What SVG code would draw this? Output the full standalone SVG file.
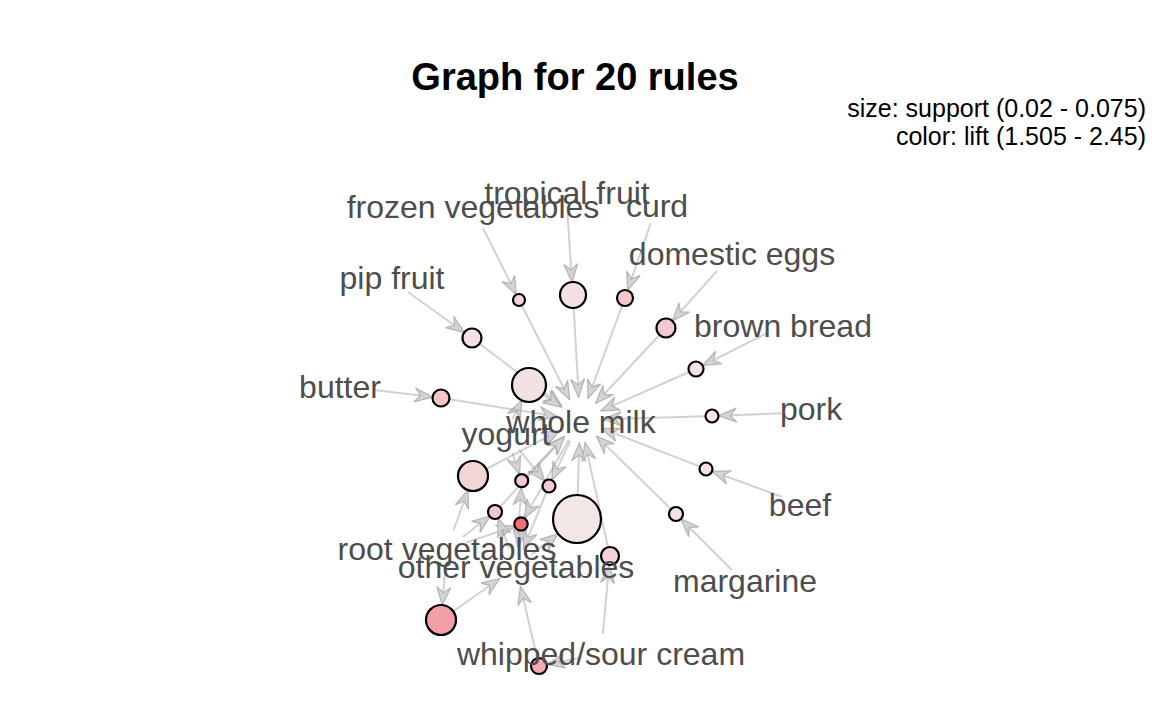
<svg xmlns="http://www.w3.org/2000/svg" width="1152" height="711" viewBox="0 0 1152 711">
<defs>
<marker id="arr" viewBox="-20 -8 21 16" refX="0" refY="0" markerWidth="21" markerHeight="16" markerUnits="userSpaceOnUse" orient="auto">
<path d="M0,0 L-18,-7 L-12,0 L-18,7 Z" fill="#d4d4d4" stroke="#b4b4b4" stroke-width="1.2"/>
</marker>
</defs>
<style>
.e{stroke:#9a9a9a;stroke-opacity:0.45;stroke-width:2;fill:none;marker-end:url(#arr)}
.r{stroke:#000;stroke-width:2.2}
.lbl{font-family:"Liberation Sans",Arial,sans-serif;font-size:32px;fill:#4d4d4d;text-anchor:middle}
.title{font-family:"Liberation Sans",Arial,sans-serif;font-size:38px;font-weight:bold;fill:#000;text-anchor:middle}
.leg{font-family:"Liberation Sans",Arial,sans-serif;font-size:25px;fill:#000;text-anchor:end}
</style>
<rect width="1152" height="711" fill="#fff"/>
<text class="title" x="575" y="90">Graph for 20 rules</text>
<text class="leg" x="1146" y="117">size: support (0.02 - 0.075)</text>
<text class="leg" x="1146" y="145">color: lift (1.505 - 2.45)</text>
<g id="edges">
<line class="e" x1="483" y1="228" x2="516.3" y2="294.6"/>
<line class="e" x1="567.5" y1="213" x2="572" y2="282"/>
<line class="e" x1="650.7" y1="223.3" x2="627.6" y2="290.4"/>
<line class="e" x1="717" y1="271" x2="672.3" y2="320.9"/>
<line class="e" x1="408" y1="292" x2="464.3" y2="332.5"/>
<line class="e" x1="374" y1="390" x2="432.6" y2="397"/>
<line class="e" x1="766.7" y1="333.3" x2="702.7" y2="365.6"/>
<line class="e" x1="781.7" y1="413.3" x2="718.5" y2="415.8"/>
<line class="e" x1="781.7" y1="496.7" x2="712.1" y2="471.2"/>
<line class="e" x1="731.7" y1="570" x2="680.9" y2="519"/>
<line class="e" x1="512.5" y1="419" x2="521.8" y2="400.4"/>
<line class="e" x1="512.4" y1="453" x2="519.6" y2="474.5"/>
<line class="e" x1="518.7" y1="449.4" x2="544.9" y2="481.1"/>
<line class="e" x1="570.2" y1="440.8" x2="551.8" y2="480.1"/>
<line class="e" x1="568.7" y1="440" x2="524.3" y2="518.2"/>
<line class="e" x1="453.7" y1="530" x2="468" y2="490"/>
<line class="e" x1="462.9" y1="536.8" x2="490.1" y2="516"/>
<line class="e" x1="466" y1="542.6" x2="514.7" y2="526.1"/>
<line class="e" x1="445.3" y1="569" x2="442.3" y2="605"/>
<line class="e" x1="517.3" y1="547" x2="521.3" y2="487.4"/>
<line class="e" x1="509.1" y1="548.2" x2="498.1" y2="518.3"/>
<line class="e" x1="531.7" y1="554.6" x2="558.1" y2="533.8"/>
<line class="e" x1="602.8" y1="634" x2="609.2" y2="565"/>
<line class="e" x1="581.4" y1="657.8" x2="546.9" y2="664.5"/>
<line class="e" x1="521.7" y1="305.3" x2="569.6" y2="399.5"/>
<line class="e" x1="573.7" y1="308" x2="578.7" y2="397"/>
<line class="e" x1="622.2" y1="305.5" x2="588" y2="398.4"/>
<line class="e" x1="659.5" y1="335" x2="595.7" y2="403.2"/>
<line class="e" x1="479.6" y1="343.7" x2="561.7" y2="406.1"/>
<line class="e" x1="543" y1="394.6" x2="561" y2="407"/>
<line class="e" x1="449.4" y1="399.3" x2="557.3" y2="416.4"/>
<line class="e" x1="689.1" y1="372" x2="601" y2="410.8"/>
<line class="e" x1="705.5" y1="416.2" x2="603" y2="419.3"/>
<line class="e" x1="700" y1="466.6" x2="601.4" y2="428.3"/>
<line class="e" x1="671" y1="509" x2="596.4" y2="436.1"/>
<line class="e" x1="486.3" y1="469" x2="559.6" y2="430.7"/>
<line class="e" x1="526" y1="476.2" x2="564" y2="436.6"/>
<line class="e" x1="500.4" y1="506.5" x2="564.4" y2="436.9"/>
<line class="e" x1="577.7" y1="495" x2="579.3" y2="443"/>
<line class="e" x1="608" y1="547" x2="585" y2="442.5"/>
<line class="e" x1="546.5" y1="492" x2="523.5" y2="548.5"/>
<line class="e" x1="519.8" y1="530.7" x2="518.3" y2="547"/>
<line class="e" x1="453.3" y1="611.3" x2="499.7" y2="578.5"/>
<line class="e" x1="537.2" y1="658.2" x2="520.5" y2="586.5"/>
</g>
<g id="rule1"><circle class="r" cx="519" cy="300" r="6" fill="#f2d5d8"/></g>
<g id="rule2"><circle class="r" cx="573" cy="295" r="13" fill="#f3e1e3"/></g>
<g id="rule3"><circle class="r" cx="625" cy="298" r="8" fill="#f2c8cc"/></g>
<g id="rule4"><circle class="r" cx="666" cy="328" r="9.5" fill="#f2cace"/></g>
<g id="rule5"><circle class="r" cx="472" cy="338" r="9.5" fill="#f3e1e3"/></g>
<g id="rule6"><circle class="r" cx="529" cy="385" r="17" fill="#f3e2e4"/></g>
<g id="rule7"><circle class="r" cx="441" cy="398" r="8.5" fill="#f2c6ca"/></g>
<g id="rule8"><circle class="r" cx="696" cy="369" r="7.5" fill="#f3e3e5"/></g>
<g id="rule9"><circle class="r" cx="712" cy="416" r="6.5" fill="#f3e5e6"/></g>
<g id="rule10"><circle class="r" cx="706" cy="469" r="6.5" fill="#f3e1e3"/></g>
<g id="rule11"><circle class="r" cx="676" cy="514" r="7" fill="#f3e1e3"/></g>
<g id="rule12"><circle class="r" cx="473" cy="476" r="15" fill="#f3d4d7"/></g>
<g id="rule13"><circle class="r" cx="521.7" cy="480.7" r="6.5" fill="#f2c8cc"/></g>
<g id="rule14"><circle class="r" cx="549" cy="486" r="6.5" fill="#f2cbcf"/></g>
<g id="rule15"><circle class="r" cx="495" cy="512" r="7" fill="#f2c8cc"/></g>
<g id="rule16"><circle class="r" cx="521" cy="524" r="6.7" fill="#ee6e79"/></g>
<g id="rule17"><circle class="r" cx="577" cy="519" r="24" fill="#f3e6e7"/></g>
<g id="rule18"><circle class="r" cx="610" cy="556" r="9" fill="#f3d3d6"/></g>
<g id="rule19"><circle class="r" cx="441" cy="620" r="15" fill="#f29fa5"/></g>
<g id="rule20"><circle class="r" cx="539" cy="666" r="8" fill="#f3aab0"/></g>
<g id="item-whole-milk"><text class="lbl" x="581" y="433">whole milk</text></g>
<g id="item-tropical-fruit"><text class="lbl" x="567" y="204">tropical fruit</text></g>
<g id="item-frozen-vegetables"><text class="lbl" x="473" y="218">frozen vegetables</text></g>
<g id="item-curd"><text class="lbl" x="657" y="217">curd</text></g>
<g id="item-domestic-eggs"><text class="lbl" x="732" y="265">domestic eggs</text></g>
<g id="item-pip-fruit"><text class="lbl" x="392" y="289">pip fruit</text></g>
<g id="item-brown-bread"><text class="lbl" x="783" y="337">brown bread</text></g>
<g id="item-butter"><text class="lbl" x="340" y="398">butter</text></g>
<g id="item-pork"><text class="lbl" x="811" y="420">pork</text></g>
<g id="item-yogurt"><text class="lbl" x="506" y="445">yogurt</text></g>
<g id="item-beef"><text class="lbl" x="800" y="516">beef</text></g>
<g id="item-root-vegetables"><text class="lbl" x="447" y="560">root vegetables</text></g>
<g id="item-other-vegetables"><text class="lbl" x="516" y="578">other vegetables</text></g>
<g id="item-margarine"><text class="lbl" x="745" y="592">margarine</text></g>
<g id="item-whipped-sour-cream"><text class="lbl" x="601" y="665">whipped/sour cream</text></g>
</svg>
